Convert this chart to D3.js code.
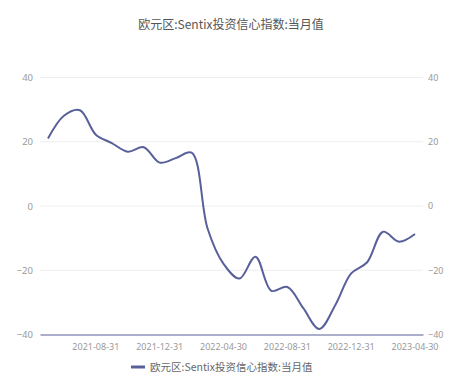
<!DOCTYPE html>
<html>
<head>
<meta charset="utf-8">
<script src="https://cdn.jsdelivr.net/npm/d3@7"></script>
<style>
  body { margin: 0; background: #fff; }
  svg { display: block; font-family: "Noto Sans CJK SC", "Noto Sans", sans-serif; }
</style>
</head>
<body>
<div id="chart"></div>
<script>
// data
const months = [
  '2021-05-31', '2021-06-30', '2021-07-31', '2021-08-31', '2021-09-30', '2021-10-31',
  '2021-11-30', '2021-12-31', '2022-01-31', '2022-02-28', '2022-03-31', '2022-04-30',
  '2022-05-31', '2022-06-30', '2022-07-31', '2022-08-31', '2022-09-30', '2022-10-31',
  '2022-11-30', '2022-12-31', '2023-01-31', '2023-02-28', '2023-03-31', '2023-04-30'
];
const values = [
  21.0, 28.1, 29.8, 22.2, 19.6, 16.9,
  18.3, 13.5, 14.9, 16.6, -7.0, -18.0,
  -22.6, -15.8, -26.4, -25.2, -31.8, -38.3,
  -30.9, -21.0, -17.5, -8.0, -11.1, -8.7
];
const yTicks = [-40, -20, 0, 20, 40];
const xLabels = ['2021-08-31', '2021-12-31', '2022-04-30', '2022-08-31', '2022-12-31', '2023-04-30'];
const seriesName = '欧元区:Sentix投资信心指数:当月值';

const W = 474, H = 378;
const margin = { top: 77.5, right: 51, bottom: 43.5, left: 40 };
const width = W - margin.left - margin.right;
const height = H - margin.top - margin.bottom;
const lineColor = '#58609a';

const svg = d3.select('#chart')
  .append('svg')
  .attr('width', W)
  .attr('height', H);

const g = svg.append('g')
  .attr('transform', `translate(${margin.left},${margin.top})`);

// scales
const x = d3.scaleBand()
  .domain(months)
  .range([0, width]);

const y = d3.scaleLinear()
  .domain([-40, 40])
  .range([height, 0]);

// grid lines
g.append('g')
  .selectAll('line')
  .data(yTicks.filter((d) => d !== -40))
  .enter()
  .append('line')
  .attr('x1', 0)
  .attr('x2', width)
  .attr('y1', (d) => y(d))
  .attr('y2', (d) => y(d))
  .attr('stroke', '#eeeeee')
  .attr('stroke-width', 1);

// left axis labels
const yLeft = g.append('g')
  .call(d3.axisLeft(y).tickValues(yTicks).tickSize(0).tickPadding(7));
yLeft.select('.domain').remove();
yLeft.selectAll('text')
  .style('fill', '#999')
  .style('font-size', '9.5px')
  .style('font-family', '"Noto Sans", sans-serif');

// right axis labels
const yRight = g.append('g')
  .attr('transform', `translate(${width},0)`)
  .call(d3.axisRight(y).tickValues(yTicks).tickSize(0).tickPadding(5));
yRight.select('.domain').remove();
yRight.selectAll('text')
  .style('fill', '#999')
  .style('font-size', '9px')
  .style('font-family', '"Noto Sans", sans-serif');

// x axis
const xAxis = g.append('g')
  .attr('transform', `translate(0,${height})`)
  .call(d3.axisBottom(x).tickValues(xLabels).tickSize(0).tickPadding(9));
xAxis.select('.domain')
  .attr('stroke', lineColor)
  .attr('stroke-width', 1.2);
xAxis.selectAll('text')
  .style('fill', '#999')
  .style('font-size', '9px')
  .style('font-family', '"Noto Sans", sans-serif');

// line
const line = d3.line()
  .x((d, i) => x(months[i]) + x.bandwidth() / 2)
  .y((d) => y(d))
  .curve(d3.curveCatmullRom.alpha(0.5));

g.append('path')
  .datum(values)
  .attr('fill', 'none')
  .attr('stroke', lineColor)
  .attr('stroke-width', 2)
  .attr('d', line);

// title
svg.append('text')
  .attr('x', 231)
  .attr('y', 29)
  .attr('text-anchor', 'middle')
  .style('font-size', '12px')
  .style('fill', '#555')
  .text(seriesName);

// legend
const legend = svg.append('g')
  .attr('transform', 'translate(131,367)');

legend.append('line')
  .attr('x1', 0)
  .attr('x2', 14)
  .attr('stroke', lineColor)
  .attr('stroke-width', 3);

legend.append('text')
  .attr('x', 19)
  .attr('y', 4)
  .style('font-size', '10.5px')
  .style('fill', '#666')
  .text(seriesName);
</script>
</body>
</html>
